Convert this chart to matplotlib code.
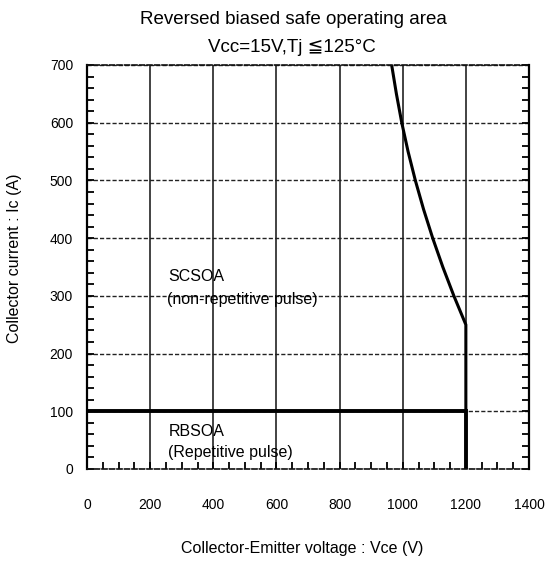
import matplotlib
matplotlib.use("Agg")
import matplotlib.pyplot as plt
import matplotlib.ticker as ticker

plt.rcParams["font.family"] = ["Liberation Sans", "DejaVu Sans"]

# RBSOA boundary (repetitive pulse)
rbsoa_vce = [0, 1200, 1200]
rbsoa_ic = [100, 100, 0]

# SCSOA boundary (non-repetitive pulse)
scsoa_vce = [965, 980, 997, 1017, 1040, 1066, 1095, 1127, 1162, 1200, 1200]
scsoa_ic = [700, 650, 600, 550, 500, 450, 400, 350, 300, 250, 100]

x_ticks = [0, 200, 400, 600, 800, 1000, 1200, 1400]
y_ticks = [0, 100, 200, 300, 400, 500, 600, 700]


def main():
    fig = plt.figure(figsize=(5.49, 5.62), dpi=100)
    ax = fig.add_axes([87 / 549, 93 / 562, 442 / 549, 404 / 562])

    ax.set_xlim(0, 1400)
    ax.set_ylim(0, 700)
    ax.set_xticks(x_ticks)
    ax.set_yticks(y_ticks)
    ax.xaxis.set_minor_locator(ticker.MultipleLocator(50))
    ax.yaxis.set_minor_locator(ticker.MultipleLocator(20))

    ax.grid(axis="x", color="#222222", linewidth=1.2, linestyle="-")
    ax.grid(axis="y", color="#222222", linewidth=1.0, linestyle=(0, (3, 1.5)))
    ax.set_axisbelow(True)

    ax.plot(rbsoa_vce, rbsoa_ic, color="black", linewidth=2.8, solid_joinstyle="miter")
    ax.plot(scsoa_vce, scsoa_ic, color="black", linewidth=2.2, solid_joinstyle="round")

    for side in ["left", "right"]:
        ax.spines[side].set_linewidth(1.6)
        ax.spines[side].set_color("black")
    for side in ["top", "bottom"]:
        ax.spines[side].set_linewidth(1.2)
        ax.spines[side].set_linestyle((0, (3, 1.5)))
        ax.spines[side].set_color("#111111")

    ax.tick_params(axis="x", which="both", direction="in", bottom=True, top=False,
                   length=5, width=1.3, pad=21, labelsize=10)
    ax.tick_params(axis="y", which="both", direction="in", left=True, right=True,
                   length=5, width=1.3, pad=10, labelsize=10)

    ax.text(256, 333, "SCSOA", fontsize=11.5, va="center", ha="left")
    ax.text(252, 293, "(non-repetitive pulse)", fontsize=11.5, va="center", ha="left")
    ax.text(260, 65, "RBSOA", fontsize=11.5, va="center", ha="left")
    ax.text(256, 28, "(Repetitive pulse)", fontsize=11.5, va="center", ha="left")

    fig.text(293 / 549, 1 - 20 / 562, "Reversed biased safe operating area",
             fontsize=13.5, ha="center", va="center")
    fig.text(292 / 549, 1 - 47 / 562, "Vcc=15V,Tj ≦125°C",
             fontsize=13.5, ha="center", va="center")

    fig.text(302 / 549, 1 - 548 / 562, "Collector-Emitter voltage : Vce (V)",
             fontsize=11.5, ha="center", va="center")
    fig.text(15 / 549, 1 - 258 / 562, "Collector current : Ic (A)",
             fontsize=11.5, ha="center", va="center", rotation=90)

    fig.savefig("out.png", dpi=100)


if __name__ == "__main__":
    main()
